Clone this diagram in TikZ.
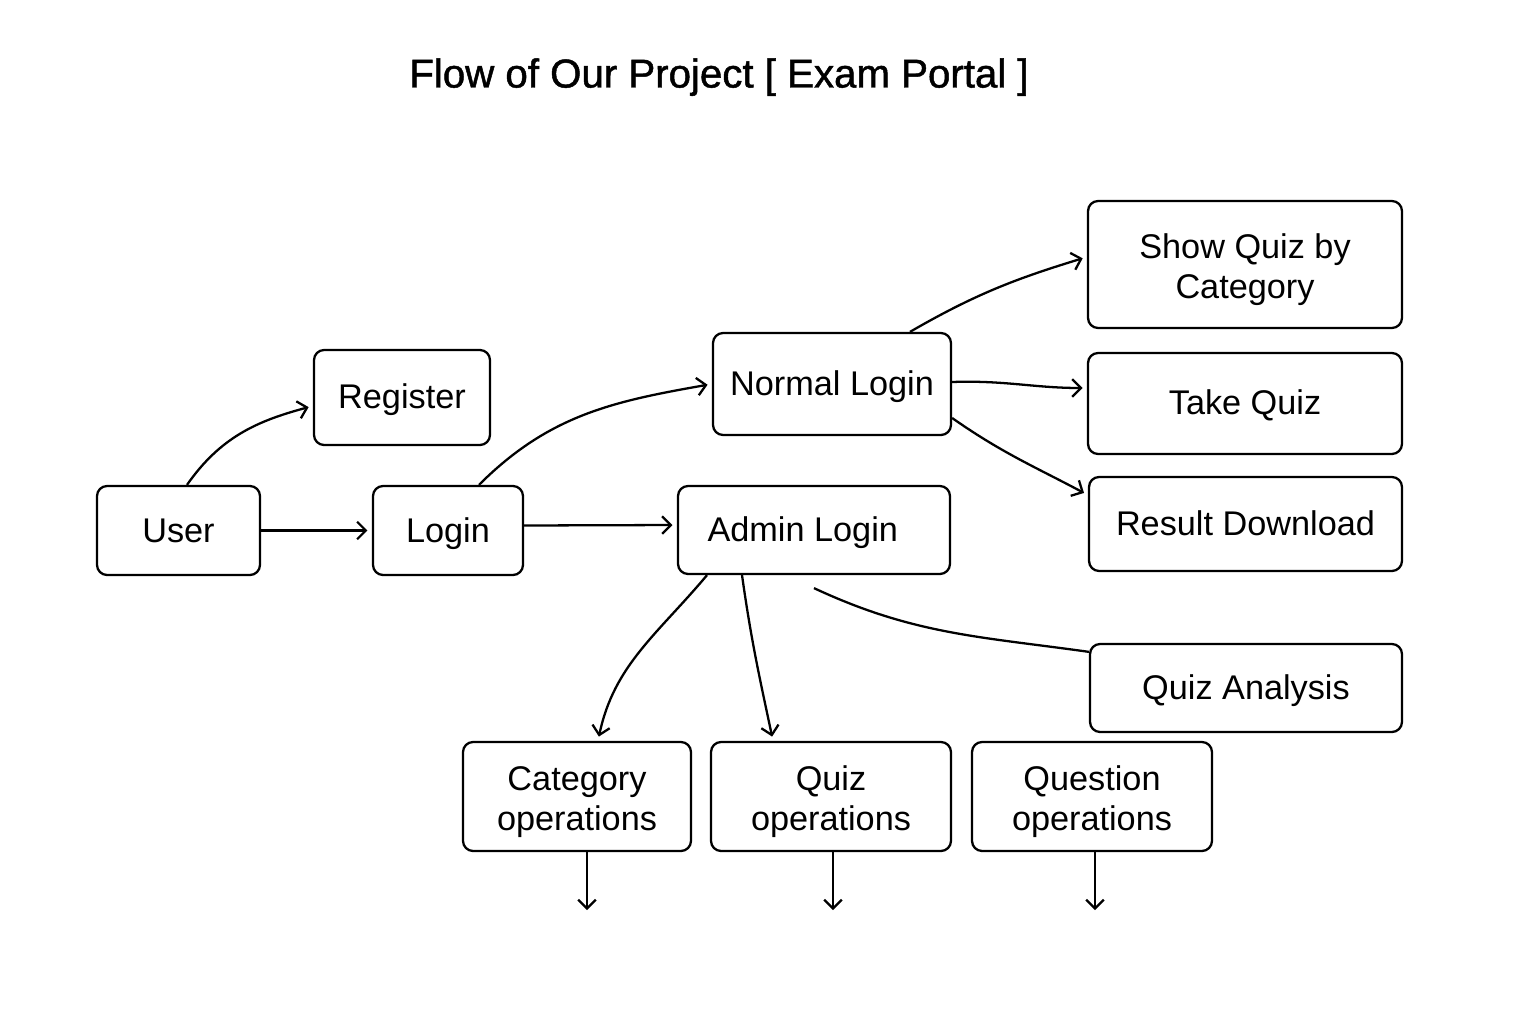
\documentclass[tikz,border=0pt]{standalone}
\usepackage{fontspec}
\setmainfont{Liberation Sans}
\newfontfamily\titlefont{Liberation Sans}[FakeBold=1.2]
\usetikzlibrary{arrows.meta}
\tikzset{
  box/.style={draw,line width=1.3pt,rounded corners=0.2cm,inner sep=0pt,align=center,
    font=\fontsize{19.5}{22.7}\selectfont,text height=0.49cm,text depth=0.03cm},
  twoline/.style={text height=1.46cm,text depth=0.1cm},
  flow/.style={line width=1.3pt,-{Straight Barb[length=5pt,width=10pt,line width=1.3pt]},shorten >=2.5pt},
}
\begin{document}
\begin{tikzpicture}[x=0.02cm,y=-0.02cm]
\useasboundingbox (0,0) rectangle (1536,1024);
\node[font=\titlefont\fontsize{22.9}{26}\selectfont,text height=0.58cm,text depth=0pt] at (719,73)(title){Flow of Our Project [ Exam Portal ]};

\node[box,minimum width=3.26cm,minimum height=1.78cm] at (178.5,530.5)(user){User};
\node[box,minimum width=3.52cm,minimum height=1.90cm] at (402,397.5)(register){Register};
\node[box,minimum width=3.00cm,minimum height=1.78cm] at (448,530.5)(login){Login};
\node[box,minimum width=4.76cm,minimum height=2.04cm] at (832,384)(normal){Normal Login};
\node[box,minimum width=5.44cm,minimum height=1.76cm] at (814,530)(admin){Admin Login\hspace*{0.45cm}};
\node[box,twoline,minimum width=6.28cm,minimum height=2.54cm] at (1245,264.5)(showquiz){Show Quiz by\\Category};
\node[box,minimum width=6.28cm,minimum height=2.02cm] at (1245,403.5)(takequiz){Take Quiz};
\node[box,minimum width=6.26cm,minimum height=1.88cm] at (1245.5,524)(result){Result Download};
\node[box,minimum width=6.24cm,minimum height=1.76cm] at (1246,688)(analysis){Quiz Analysis};
\node[box,twoline,minimum width=4.56cm,minimum height=2.18cm] at (577,796.5)(catops){Category\\operations};
\node[box,twoline,minimum width=4.80cm,minimum height=2.18cm] at (831,796.5)(quizops){Quiz\\operations};
\node[box,twoline,minimum width=4.80cm,minimum height=2.18cm] at (1092,796.5)(questops){Question\\operations};

\draw[flow] ([xshift=0.17cm]user.north) to[out=55,in=195] ([yshift=-0.17cm]register.west);
\draw[flow] (user.east) -- (login.west);
\draw[flow] ([xshift=0.62cm]login.north) to[out=45,in=190] (normal.west);
\draw[flow] ([yshift=0.1cm]login.east) -- ([yshift=0.1cm]admin.west);
\draw[flow] ([xshift=1.56cm]normal.north) to[out=30,in=197] ([yshift=0.15cm]showquiz.west);
\draw[flow] ([yshift=0.04cm]normal.east) to[out=2,in=180] ([yshift=0.31cm]takequiz.west);
\draw[flow] ([yshift=-0.68cm]normal.east) to[out=-35,in=152] ([yshift=0.58cm]result.west);
\draw[flow] ([xshift=-2.14cm]admin.south) to[out=-130,in=78] ([xshift=0.42cm]catops.north);
\draw[flow] ([xshift=-1.44cm]admin.south) to[out=-82,in=102] ([xshift=-1.16cm]quizops.north);
\coordinate (adminfoot) at ([yshift=-0.26cm]admin.south);
\draw[line width=1.3pt] (adminfoot) to[out=-25,in=172] ([yshift=-0.18cm]analysis.north west);

\foreach \n/\s in {catops/0.2,quizops/0.04,questops/0.06}{
    \coordinate (\n end) at ([xshift=\s cm,yshift=-1.16cm]\n.south);
    \draw[flow,shorten >=0pt] ([xshift=\s cm]\n.south) -- (\n end);
}
\end{tikzpicture}
\end{document}
